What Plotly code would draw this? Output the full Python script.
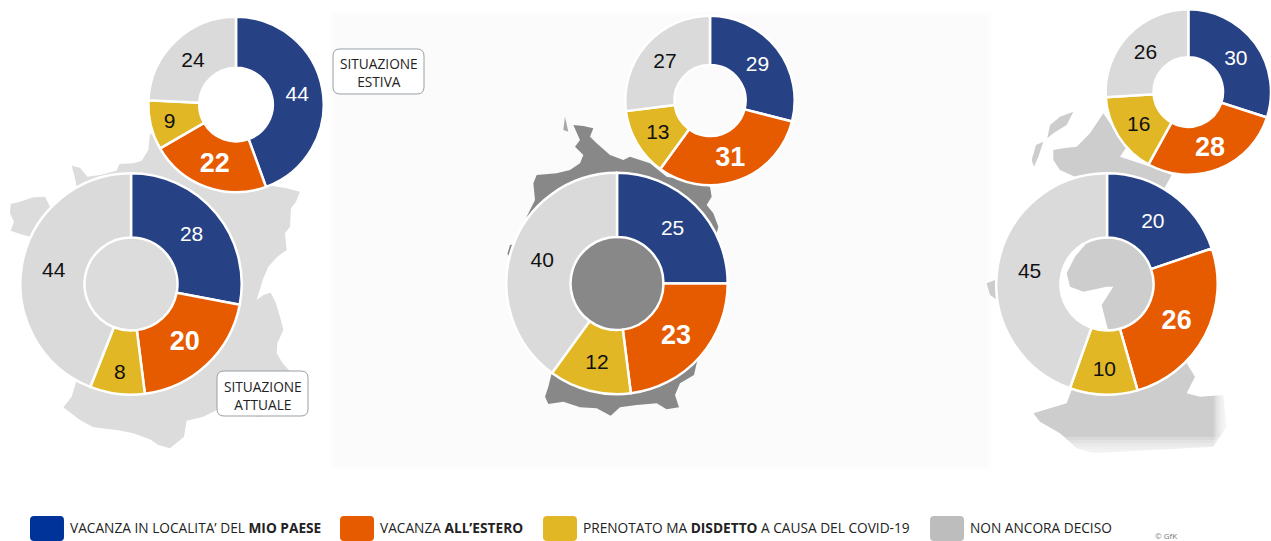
import plotly.graph_objects as go

W, H = 1271, 541

categories = ["Mio paese", "All'estero", "Disdetto", "Non ancora deciso"]
france_summer = [44, 22, 9, 24]
france_now = [28, 20, 8, 44]
germany_summer = [29, 31, 13, 27]
germany_now = [25, 23, 12, 40]
uk_summer = [30, 28, 16, 26]
uk_now = [20, 26, 10, 45]

colors = ["#264284", "#E65A00", "#E1B726", "#DADADA"]
label_colors = ["#FFFFFF", "#FFFFFF", "#111111", "#111111"]
label_sizes = [21, 27, 21, 21]
label_templates = ["%{value}", "<b>%{value}</b>", "%{value}", "%{value}"]

# centre x, centre y, radius (pixels)
donuts = [
    (france_summer, 236, 104.5, 87.7),
    (france_now, 131, 284, 110.7),
    (germany_summer, 710, 100.5, 84.7),
    (germany_now, 617, 283.5, 110.7),
    (uk_summer, 1188.3, 92, 82.7),
    (uk_now, 1107, 284, 110.7),
]

# decorative country silhouettes behind the donuts (3x crop coordinates)
france_map = [(215,497),(240,503),(250,515),(262,530),(300,525),(350,512),(358,492),(400,490),(425,482),(445,450),
    (450,400),(560,480),(800,555),(860,565),(900,575),(888,605),(873,625),(870,680),(855,700),(860,750),(832,770),
    (805,800),(790,835),(770,900),(790,885),(812,878),(826,905),(840,950),(850,990),(832,1030),(830,1060),(848,1090),
    (880,1125),(780,1250),(700,1240),(650,1230),(610,1250),(560,1262),(552,1310),(510,1345),(475,1335),(450,1318),
    (400,1300),(350,1290),(280,1282),(240,1260),(190,1222),(215,1190),(230,1140),(90,710),(60,702),(32,692),(42,665),
    (30,640),(32,612),(60,605),(100,592),(135,590),(150,620),(230,560),(225,535)]
germany_map = [(280,375),(310,378),(340,385),(330,410),(350,430),(390,465),(430,480),(450,470),(510,490),(560,530),
    (640,545),(690,560),(695,590),(680,615),(700,640),(715,680),(710,700),(722,730),(735,800),(650,1090),(642,1125),
    (600,1150),(585,1185),(597,1222),(560,1228),(530,1210),(470,1215),(420,1222),(392,1247),(350,1225),(300,1222),
    (250,1205),(205,1212),(195,1190),(205,1160),(215,1120),(120,800),(82,762),(90,735),(130,730),(140,650),(165,600),
    (160,550),(170,525),(230,520),(270,510),(300,490),(310,465),(285,440),(300,420)]
germany_isle = [(255,350),(265,395),(250,390)]
uk_map = [(430,340),(470,400),(500,440),(480,470),(600,510),(635,525),(610,570),(750,740),(770,850),
    (680,1090),(705,1130),(680,1180),(720,1190),(790,1185),(800,1280),(760,1340),(400,1360),(350,1345),
    (300,1300),(240,1265),(220,1240),(320,1210),(335,1170),(445,990),(440,975),(425,915),(460,860),
    (440,860),(370,875),(330,860),(320,820),(345,770),(375,735),(345,530),(300,510),(280,480),(280,450),
    (310,445),(350,440),(390,400)]
uk_isle_1 = [(340,335),(320,375),(280,400),(262,415),(270,375),(300,350)]
uk_isle_2 = [(250,425),(235,470),(222,500),(215,480),(228,435)]
uk_isle_3 = [(80,850),(105,840),(112,900),(90,885)]


def px(x):
    return x / W


def py(y):
    return 1 - y / H


def clamp(v):
    return max(0.0, min(1.0, v))


def poly(points, ox, fill):
    d = "M " + " L ".join(f"{px(ox + x / 3):.5f},{py(y / 3):.5f}" for x, y in points) + " Z"
    return dict(type="path", path=d, xref="paper", yref="paper", fillcolor=fill,
                line=dict(width=0), layer="below")


def rect(x0, y0, x1, y1, fill, opacity=1.0):
    return dict(type="rect", xref="paper", yref="paper", x0=px(x0), x1=px(x1), y0=py(y1), y1=py(y0),
                fillcolor=fill, opacity=opacity, layer="below", line=dict(width=0))


def rounded(x0, y0, x1, y1, r, fill, line=None):
    p = (f"M {px(x0+r):.5f},{py(y0):.5f} L {px(x1-r):.5f},{py(y0):.5f} "
         f"Q {px(x1):.5f},{py(y0):.5f} {px(x1):.5f},{py(y0+r):.5f} "
         f"L {px(x1):.5f},{py(y1-r):.5f} Q {px(x1):.5f},{py(y1):.5f} {px(x1-r):.5f},{py(y1):.5f} "
         f"L {px(x0+r):.5f},{py(y1):.5f} Q {px(x0):.5f},{py(y1):.5f} {px(x0):.5f},{py(y1-r):.5f} "
         f"L {px(x0):.5f},{py(y0+r):.5f} Q {px(x0):.5f},{py(y0):.5f} {px(x0+r):.5f},{py(y0):.5f} Z")
    return dict(type="path", path=p, xref="paper", yref="paper", fillcolor=fill,
                line=dict(width=0) if line is None else line)


fig = go.Figure()
for values, cx, cy, r in donuts:
    fig.add_trace(go.Pie(
        labels=categories, values=values, sort=False, direction="clockwise", rotation=0,
        hole=0.42, showlegend=False,
        domain=dict(x=[clamp(px(cx - r)), clamp(px(cx + r))], y=[clamp(py(cy + r)), clamp(py(cy - r))]),
        marker=dict(colors=colors, line=dict(color="#FFFFFF", width=2.5)),
        texttemplate=label_templates, textinfo="value", textposition="inside",
        insidetextorientation="horizontal",
        textfont=dict(family="Liberation Sans", size=label_sizes, color=label_colors),
    ))

shapes = []
# soft light-grey panel behind the middle map: stacked faint layers fade its edges
for i in range(14):
    d = (13 - i) * 1.6
    shapes.append(rect(350 - d, 32 - d, 972 + d, 450 + d, "#F9F9F9", opacity=0.22))
shapes += [poly(france_map, 0, "#DCDCDC"), poly(germany_map, 480, "#888888"), poly(germany_isle, 480, "#A8A8A8"),
           poly(uk_map, 960, "#CDCDCD"), poly(uk_isle_1, 960, "#CDCDCD"),
           poly(uk_isle_2, 960, "#CDCDCD"), poly(uk_isle_3, 960, "#CDCDCD")]
# fade of the UK silhouette at its bottom and right edges
for i in range(8):
    shapes.append(rect(1030, 458 - i * 3, 1240, 470, "#FFFFFF", opacity=0.25))
    shapes.append(rect(1228 - i * 2, 380, 1240, 470, "#FFFFFF", opacity=0.25))

box_line = dict(color="#9AA0A6", width=1)
shapes.append(rounded(333, 49, 424, 94, 7, "#FFFFFF", box_line))
shapes.append(rounded(217, 371, 308, 416, 7, "#FFFFFF", box_line))

legend_entries = [
    ("VACANZA IN LOCALITA’ DEL <b>MIO PAESE</b>", 30, 68, "#003399"),
    ("VACANZA <b>ALL’ESTERO</b>", 340, 378, "#E65A00"),
    ("PRENOTATO MA <b>DISDETTO</b> A CAUSA DEL COVID-19", 543, 581, "#E1B726"),
    ("NON ANCORA DECISO", 930, 968, "#BDBDBD"),
]
for _, sx, _, col in legend_entries:
    shapes.append(rounded(sx, 516, sx + 34, 541, 4, col))

font_ui = "Open Sans"
annotations = []


def note(text, x, y, size, color="#222222", anchor="left"):
    annotations.append(dict(text=text, x=px(x), y=py(y), xref="paper", yref="paper", showarrow=False,
                            xanchor=anchor, yanchor="middle", align="center" if anchor == "center" else "left",
                            font=dict(family=font_ui, size=size, color=color)))


for text, _, tx, _ in legend_entries:
    note(text, tx, 527, 13.7)
note("SITUAZIONE<br>ESTIVA", 378.5, 73, 13.7, anchor="center")
note("SITUAZIONE<br>ATTUALE", 262.5, 395, 13.7, anchor="center")
note("© GfK", 1153, 535.5, 8, color="#777777")

fig.update_layout(width=W, height=H, margin=dict(l=0, r=0, t=0, b=0), paper_bgcolor="#FFFFFF",
                  plot_bgcolor="#FFFFFF", shapes=shapes, annotations=annotations, showlegend=False)

fig.write_html("out.html", config={"displayModeBar": False},
               post_script="document.body.style.margin='0';document.body.style.overflow='hidden';")
